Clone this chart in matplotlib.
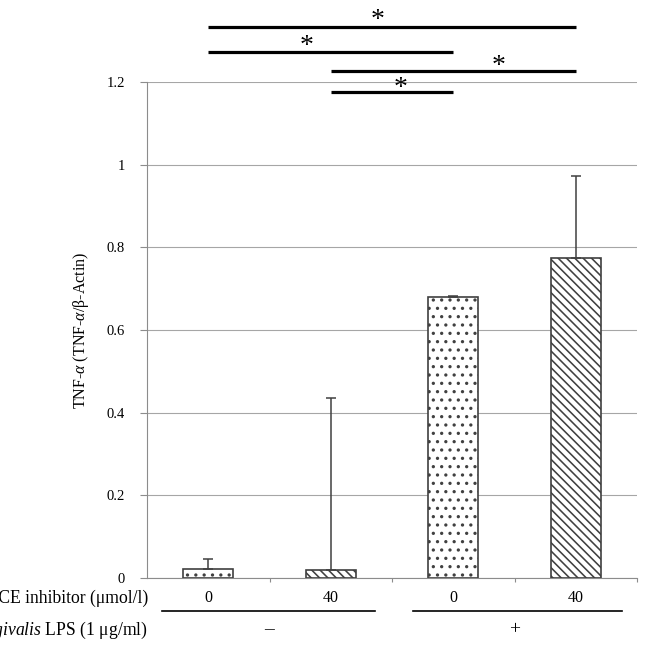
import matplotlib
matplotlib.use("Agg")
import matplotlib.pyplot as plt
import matplotlib as mpl

plt.rcParams['font.family'] = ['Liberation Serif', 'DejaVu Serif']
plt.rcParams['mathtext.fontset'] = 'custom'
plt.rcParams['mathtext.rm'] = 'Liberation Serif'
plt.rcParams['mathtext.it'] = 'Liberation Serif:italic'
plt.rcParams['hatch.linewidth'] = 1.15

# ---- data ----
inhibitor_labels = ["0", "40", "0", "40"]
lps_labels = ["\u2013", "+"]
values = [0.022, 0.019, 0.680, 0.774]
err_upper = [0.024, 0.417, 0.003, 0.199]
hatches = ['..', '\\\\\\\\', '..', '\\\\\\\\']
yticks = [0, 0.2, 0.4, 0.6, 0.8, 1.0, 1.2]
ytick_labels = ["0", "0.2", "0.4", "0.6", "0.8", "1", "1.2"]
# significance comparisons (bar index pairs)
sig_pairs = [(0, 3), (0, 2), (1, 3), (1, 2)]
sig_line_y = [1.333, 1.273, 1.227, 1.176]
sig_star_x = [1.886, 1.30, 2.87, 2.07]
sig_star_y = [1.3645, 1.3016, 1.2532, 1.200]

fig = plt.figure(figsize=(6.54, 6.57), dpi=100)
ax = fig.add_axes([147/654, 1-578/657, (637-147)/654, (578-82)/657])

x = [i + 0.5 for i in range(len(values))]
gray = '#8c8c8c'
edge = '#404040'

for i, (xi, v, h) in enumerate(zip(x, values, hatches)):
    ax.bar(xi, v, width=0.41, color='white', edgecolor=edge, hatch=h,
           linewidth=1.2, zorder=3)
ax.errorbar(x, values, yerr=[[0]*len(values), err_upper], fmt='none',
            ecolor=edge, elinewidth=1.1, capsize=3.4, capthick=1.1, zorder=4)

ax.set_xlim(0, 4)
ax.set_ylim(0, 1.2)
ax.set_yticks(yticks)
ax.set_yticklabels(ytick_labels, fontsize=10.5)
ax.yaxis.grid(True, color='#a6a6a6', linewidth=0.8, zorder=0)
ax.set_axisbelow(True)
ax.set_xticks([1, 2, 3, 4])
ax.set_xticklabels([])
ax.tick_params(axis='x', direction='out', length=3, color=gray, width=0.8)
ax.tick_params(axis='y', direction='out', length=5, color=gray, width=0.8, pad=11)
for s in ['top', 'right']:
    ax.spines[s].set_visible(False)
for s in ['left', 'bottom']:
    ax.spines[s].set_color(gray)
    ax.spines[s].set_linewidth(0.8)

ax.set_ylabel(r'TNF-$\alpha$ (TNF-$\alpha$/β-Actin)', fontsize=11.5)
ax.yaxis.set_label_coords(-56/490, 0.5)

# significance bars
for (a, b), ly, sx, sy in zip(sig_pairs, sig_line_y, sig_star_x, sig_star_y):
    ax.plot([x[a], x[b]], [ly, ly], color='black', lw=2.3, clip_on=False,
            solid_capstyle='butt', zorder=5)
    ax.annotate('*', xy=(sx, sy), xytext=(0, -5), textcoords='offset points',
                ha='center', va='center', fontsize=20, clip_on=False,
                zorder=5, annotation_clip=False)

# category / group annotation below
trans = mpl.transforms.blended_transform_factory(ax.transData, fig.transFigure)
for xi, lab in zip(x, inhibitor_labels):
    ax.text(xi, 1-598/657, lab, transform=trans, ha='center', va='center',
            fontsize=11.5)
group_spans = [(0.12, 1.86), (2.17, 3.88)]
group_centers = [1.0, 3.0]
for (g0, g1), gc, lab in zip(group_spans, group_centers, lps_labels):
    ax.plot([g0, g1], [1-611/657]*2, transform=trans, color='black', lw=1.2,
            clip_on=False)
    ax.text(gc, 1-630/657, lab, transform=trans, ha='center', va='center',
            fontsize=14)

fig.text(148/654, 1-598/657, 'TACE inhibitor (μmol/l)', ha='right',
         va='center', fontsize=12.7)
fig.text(148/654, 1-630/657, r'$\it{P.\ gingivalis}$ LPS (1 μg/ml)',
         ha='right', va='center', fontsize=12.7)

fig.savefig('out.png', dpi=100)
